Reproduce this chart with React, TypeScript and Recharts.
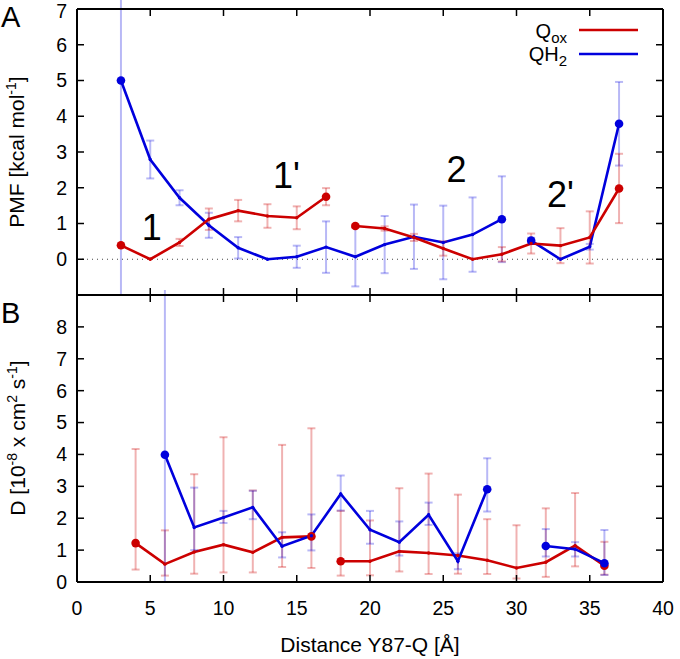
import React from 'react';
import { LineChart, Line, XAxis, YAxis, ErrorBar, ReferenceLine, ReferenceDot } from 'recharts';

const FONT = '"Liberation Sans", Arial, Helvetica, sans-serif';
const RED = '#cc0000';
const BLUE = '#0000dd';
const RED_ERR = 'rgba(204,0,0,0.3)';
const BLUE_ERR = 'rgba(0,0,221,0.28)';

// ---------- axes ----------
const xTicks = [0, 5, 10, 15, 20, 25, 30, 35, 40];
const pmfTicks = [0, 1, 2, 3, 4, 5, 6, 7];
const dTicks = [0, 1, 2, 3, 4, 5, 6, 7, 8];

// ---------- Panel A: PMF [kcal/mol] ----------
// Qox, segment 1 and 2 (symmetric error half-widths)
const qoxPmfX1 = [3, 5, 7, 9, 11, 13, 15, 17];
const qoxPmfY1 = [0.39, 0.0, 0.47, 1.12, 1.36, 1.21, 1.16, 1.75];
const qoxPmfE1: any[] = [0, 0, 0.1, 0.3, 0.3, 0.33, 0.32, 0.24];
const qoxPmfX2 = [19, 21, 23, 25, 27, 29, 31, 33, 35, 37];
const qoxPmfY2 = [0.93, 0.86, 0.61, 0.3, 0.0, 0.14, 0.44, 0.38, 0.61, 1.98];
const qoxPmfE2: any[] = [0.05, 0.06, 0.1, 0.2, 0, 0.2, 0.28, 0.49, 0.73, 0.97];
// QH2, segment 1 and 2 (first point has an asymmetric [down, up] error)
const qh2PmfX1 = [3, 5, 7, 9, 11, 13, 15, 17, 19, 21, 23, 25, 27, 29];
const qh2PmfY1 = [5.0, 2.79, 1.72, 0.95, 0.32, 0.0, 0.07, 0.34, 0.07, 0.41, 0.63, 0.47, 0.69, 1.12];
const qh2PmfE1: any[] = [[6.0, 2.3], 0.53, 0.21, 0.35, 0.3, 0, 0.31, 0.72, 0.83, 0.8, 0.9, 1.03, 1.04, 1.2];
const qh2PmfX2 = [31, 33, 35, 37];
const qh2PmfY2 = [0.52, 0.0, 0.35, 3.79];
const qh2PmfE2: any[] = [0.08, 0, 0.08, 1.17];

// ---------- Panel B: D [1e-8 cm2/s] (lower / upper bounds) ----------
const qoxDX1 = [4, 6, 8, 10, 12, 14, 16];
const qoxDY1 = [1.22, 0.56, 0.94, 1.17, 0.93, 1.4, 1.43];
const qoxDLo1 = [0.39, 0.2, 0.26, 0.3, 0.3, 0.47, 0.44];
const qoxDHi1 = [4.17, 1.62, 3.38, 4.54, 2.87, 4.3, 4.82];
const qoxDX2 = [18, 20, 22, 24, 26, 28, 30, 32, 34, 36];
const qoxDY2 = [0.65, 0.65, 0.96, 0.91, 0.83, 0.68, 0.44, 0.62, 1.14, 0.51];
const qoxDLo2 = [0.2, 0.21, 0.33, 0.25, 0.26, 0.25, 0.11, 0.16, 0.49, 0.23];
const qoxDHi2 = [2.23, 1.93, 2.94, 3.4, 2.74, 1.97, 1.78, 2.31, 2.79, 1.26];
const qh2DX1 = [6, 8, 10, 12, 14, 16, 18, 20, 22, 24, 26, 28];
const qh2DY1 = [3.99, 1.71, 2.02, 2.34, 1.12, 1.45, 2.76, 1.64, 1.25, 2.11, 0.65, 2.91];
const qh2DLo1 = [0.0, 1.0, 1.85, 1.97, 0.77, 0.99, 2.24, 1.2, 0.83, 1.79, 0.4, 2.21];
const qh2DHi1 = [9.2, 2.96, 2.23, 2.86, 1.56, 2.12, 3.34, 2.23, 1.9, 2.49, 0.9, 3.88];
const qh2DX2 = [32, 34, 36];
const qh2DY2 = [1.13, 1.03, 0.59];
const qh2DLo2 = [0.8, 0.8, 0.22];
const qh2DHi2 = [1.66, 1.25, 1.63];

// ---------- annotations ----------
const stateLabels = ['1', "1'", '2', "2'"];
const stateX = [5.1, 14.3, 25.9, 33.0];
const stateY = [0.9, 2.35, 2.5, 1.82];

// ---------- table builders ----------
const symRows = (xs: number[], ys: number[], es: any[]) =>
  xs.map((x, i) => {
    const e = es[i];
    const err = Array.isArray(e) ? e : e ? [e, e] : undefined;
    return { x, y: ys[i], e: err };
  });
const boundRows = (xs: number[], ys: number[], lo: number[], hi: number[]) =>
  xs.map((x, i) => ({ x, y: ys[i], e: [ys[i] - lo[i], hi[i] - ys[i]] }));

const pmfQox1 = symRows(qoxPmfX1, qoxPmfY1, qoxPmfE1);
const pmfQox2 = symRows(qoxPmfX2, qoxPmfY2, qoxPmfE2);
const pmfQh21 = symRows(qh2PmfX1, qh2PmfY1, qh2PmfE1);
const pmfQh22 = symRows(qh2PmfX2, qh2PmfY2, qh2PmfE2);
const dQox1 = boundRows(qoxDX1, qoxDY1, qoxDLo1, qoxDHi1);
const dQox2 = boundRows(qoxDX2, qoxDY2, qoxDLo2, qoxDHi2);
const dQh21 = boundRows(qh2DX1, qh2DY1, qh2DLo1, qh2DHi1);
const dQh22 = boundRows(qh2DX2, qh2DY2, qh2DLo2, qh2DHi2);

const makeDot = (color: string, n: number) => (props: any) => {
  const { cx, cy, index } = props;
  if (cx == null || cy == null) return <g key={`d${index}`} />;
  const end = index === 0 || index === n - 1;
  return <circle key={`d${index}`} cx={cx} cy={cy} r={end ? 4.3 : 1.7} fill={color} stroke="none" />;
};

const noTick = () => <g />;

const series = (key: string, rows: any[], color: string, errColor: string, xId: string, yId: string) => (
  <Line
    key={key}
    data={rows}
    dataKey="y"
    xAxisId={xId}
    yAxisId={yId}
    type="linear"
    stroke={color}
    strokeWidth={2.6}
    dot={makeDot(color, rows.length)}
    activeDot={false}
    isAnimationActive={false}
  >
    <ErrorBar dataKey="e" direction="y" width={4} stroke={errColor} strokeWidth={2} isAnimationActive={false} />
  </Line>
);

const tickStyle = { fill: '#000', fontSize: 19.5, fontFamily: FONT };
const frameLine = { stroke: '#000', strokeWidth: 2 };
const frameTick = { stroke: '#000', strokeWidth: 1.5 };

const frameAxes = (yDomain: number[], yTicks: number[]) => [
  <XAxis key="xb" xAxisId="xb" type="number" dataKey="x" domain={[0, 40]} ticks={xTicks} allowDataOverflow
    orientation="bottom" mirror tick={noTick} tickSize={7} height={1}
    axisLine={frameLine} tickLine={frameTick} />,
  <XAxis key="xt" xAxisId="xt" type="number" dataKey="x" domain={[0, 40]} ticks={xTicks} allowDataOverflow
    orientation="top" mirror tick={noTick} tickSize={7} height={1}
    axisLine={frameLine} tickLine={frameTick} />,
  <YAxis key="ylm" yAxisId="ylm" type="number" domain={yDomain} ticks={yTicks} allowDataOverflow
    orientation="left" mirror tick={noTick} tickSize={7} width={1}
    axisLine={frameLine} tickLine={frameTick} />,
  <YAxis key="yrm" yAxisId="yrm" type="number" domain={yDomain} ticks={yTicks} allowDataOverflow
    orientation="right" mirror tick={noTick} tickSize={7} width={1}
    axisLine={frameLine} tickLine={frameTick} />,
  <YAxis key="yl" yAxisId="yl" type="number" domain={yDomain} ticks={yTicks} allowDataOverflow
    orientation="left" width={77} tickLine={false} axisLine={false} tickSize={0} tickMargin={10}
    tick={tickStyle} />,
];

const stateShape = (label: string) => (props: any) => (
  <text x={props.cx} y={props.cy} textAnchor="middle" dominantBaseline="central"
    fontSize={36} fontFamily={FONT} fill="#000">{label}</text>
);

export default function App() {
  return (
    <div style={{ position: 'absolute', left: 0, top: 0, width: 680, height: 659, background: '#fff' }}>
      <div style={{ position: 'absolute', left: 0, top: 0 }}>
        <LineChart width={680} height={296} margin={{ top: 9, right: 17, bottom: 1, left: 0 }}>
          {frameAxes([-1, 7], pmfTicks)}
          <ReferenceLine y={0} xAxisId="xb" yAxisId="yl" stroke="#444" strokeWidth={1} strokeDasharray="1 4" />
          {series('qh2a1', pmfQh21, BLUE, BLUE_ERR, 'xb', 'yl')}
          {series('qh2a2', pmfQh22, BLUE, BLUE_ERR, 'xb', 'yl')}
          {series('qoxa1', pmfQox1, RED, RED_ERR, 'xb', 'yl')}
          {series('qoxa2', pmfQox2, RED, RED_ERR, 'xb', 'yl')}
          {stateLabels.map((s, i) => (
            <ReferenceDot key={s} x={stateX[i]} y={stateY[i]} xAxisId="xb" yAxisId="yl" r={0}
              shape={stateShape(s)} />
          ))}
        </LineChart>
      </div>
      <div style={{ position: 'absolute', left: 0, top: 290 }}>
        <LineChart width={680} height={369} margin={{ top: 5, right: 17, bottom: 0, left: 0 }}>
          {frameAxes([0, 9], dTicks)}
          <XAxis xAxisId="xl" type="number" dataKey="x" domain={[0, 40]} ticks={xTicks} allowDataOverflow
            orientation="bottom" height={77} tickLine={false} axisLine={false} tickSize={0} tickMargin={19}
            tick={tickStyle} />
          {series('qoxb1', dQox1, RED, RED_ERR, 'xl', 'yl')}
          {series('qoxb2', dQox2, RED, RED_ERR, 'xl', 'yl')}
          {series('qh2b1', dQh21, BLUE, BLUE_ERR, 'xl', 'yl')}
          {series('qh2b2', dQh22, BLUE, BLUE_ERR, 'xl', 'yl')}
        </LineChart>
      </div>
      <svg width={680} height={659} style={{ position: 'absolute', left: 0, top: 0, pointerEvents: 'none' }}
        fontFamily={FONT}>
        <text x={1} y={27} fontSize={29} fill="#000">A</text>
        <text x={1} y={323} fontSize={29} fill="#000">B</text>
        <text transform="rotate(-90)" x={-152} y={24} textAnchor="middle" fontSize={21} fill="#000">
          PMF [kcal mol<tspan dy={-8} fontSize={14}>-1</tspan><tspan dy={8}>]</tspan>
        </text>
        <text transform="rotate(-90)" x={-438} y={25} textAnchor="middle" fontSize={21} fill="#000">
          D [10<tspan dy={-8} fontSize={14}>-8</tspan><tspan dy={8}> x cm</tspan>
          <tspan dy={-8} fontSize={14}>2</tspan><tspan dy={8}> s</tspan>
          <tspan dy={-8} fontSize={14}>-1</tspan><tspan dy={8}>]</tspan>
        </text>
        <text x={370} y={652} textAnchor="middle" fontSize={21} fill="#000">Distance Y87-Q [Å]</text>
        <text x={567} y={38} textAnchor="end" fontSize={20} fill="#000">
          Q<tspan dy={5} fontSize={15}>ox</tspan>
        </text>
        <line x1={579} y1={30} x2={638} y2={30} stroke={RED} strokeWidth={2.5} />
        <text x={567} y={61} textAnchor="end" fontSize={20} fill="#000">
          QH<tspan dy={5} fontSize={15}>2</tspan>
        </text>
        <line x1={579} y1={54} x2={638} y2={54} stroke={BLUE} strokeWidth={2.5} />
      </svg>
    </div>
  );
}
